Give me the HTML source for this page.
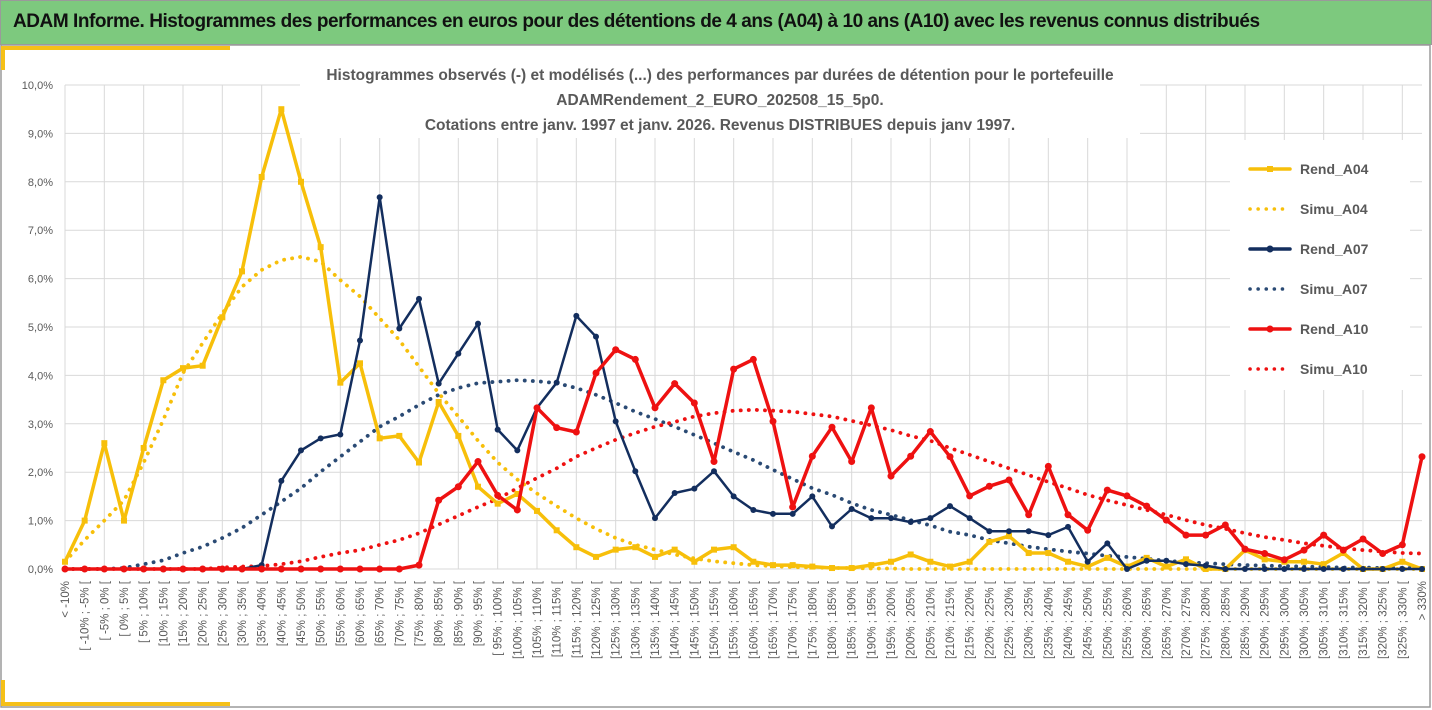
<!DOCTYPE html>
<html><head><meta charset="utf-8"><style>
body{margin:0;width:1432px;height:710px;overflow:hidden;background:#fff;font-family:"Liberation Sans",sans-serif}
#hdr{position:absolute;left:0;top:0;width:1432px;height:45px;background:#7dc97e;border:1px solid #9a9a9a;box-sizing:border-box}
#hdr span{position:absolute;left:12px;top:10px;font-size:19px;font-weight:bold;color:#111;letter-spacing:-0.45px;white-space:nowrap}
svg{position:absolute;left:0;top:0}
</style></head><body>
<div id="hdr"><span>ADAM Informe. Histogrammes des performances en euros pour des détentions de 4 ans (A04) à 10 ans (A10) avec les revenus connus distribués</span></div>
<svg id="chart" width="1432" height="710"></svg>
<script>
const rendA04=[0.15,1.0,2.6,1.0,2.5,3.9,4.15,4.2,5.2,6.15,8.1,9.5,8.0,6.65,3.85,4.25,2.7,2.75,2.2,3.45,2.75,1.7,1.35,1.55,1.2,0.8,0.45,0.25,0.4,0.45,0.25,0.4,0.15,0.4,0.45,0.15,0.08,0.08,0.05,0.02,0.02,0.08,0.15,0.3,0.15,0.05,0.15,0.56,0.68,0.33,0.33,0.15,0.05,0.23,0.05,0.23,0.05,0.2,0.0,0.0,0.39,0.2,0.15,0.15,0.1,0.33,0.0,0.0,0.15,0.0];
const simuA04=[0.15,0.6,1.0,1.42,2.2,3.08,4.05,4.67,5.28,5.83,6.18,6.38,6.45,6.35,5.97,5.63,5.18,4.73,4.18,3.63,3.15,2.65,2.2,1.85,1.56,1.3,1.05,0.83,0.64,0.5,0.4,0.3,0.22,0.16,0.12,0.08,0.06,0.04,0.03,0.02,0.02,0.01,0.01,0,0,0,0,0,0,0,0,0,0,0,0,0,0,0,0,0,0,0,0,0,0,0,0,0,0,0];
const rendA07=[0,0,0,0,0,0,0,0,0,0,0.08,1.82,2.45,2.7,2.78,4.72,7.68,4.97,5.58,3.83,4.45,5.07,2.88,2.45,3.33,3.85,5.23,4.8,3.05,2.02,1.05,1.57,1.66,2.02,1.5,1.22,1.14,1.14,1.5,0.88,1.24,1.05,1.05,0.97,1.05,1.3,1.05,0.78,0.78,0.78,0.7,0.87,0.15,0.53,0.0,0.17,0.17,0.1,0.07,0,0,0,0,0,0,0,0,0,0,0];
const simuA07=[0,0,0,0.02,0.1,0.18,0.33,0.46,0.64,0.85,1.12,1.39,1.67,2.01,2.32,2.63,2.94,3.15,3.39,3.6,3.74,3.84,3.87,3.9,3.88,3.84,3.74,3.6,3.43,3.25,3.1,2.94,2.77,2.6,2.42,2.25,2.05,1.86,1.67,1.53,1.36,1.22,1.12,1.01,0.9,0.77,0.7,0.6,0.53,0.46,0.41,0.36,0.32,0.27,0.25,0.21,0.17,0.14,0.12,0.1,0.08,0.07,0.06,0.05,0.04,0.03,0.03,0.02,0.02,0.02];
const rendA10=[0,0,0,0,0,0,0,0,0,0,0,0,0,0,0,0,0,0,0.08,1.42,1.7,2.22,1.52,1.22,3.33,2.92,2.83,4.05,4.53,4.33,3.33,3.83,3.43,2.22,4.13,4.33,3.05,1.28,2.33,2.93,2.22,3.33,1.92,2.33,2.84,2.32,1.51,1.71,1.84,1.12,2.12,1.12,0.8,1.63,1.51,1.3,1.01,0.7,0.7,0.91,0.41,0.32,0.19,0.39,0.7,0.39,0.62,0.32,0.5,2.32];
const simuA10=[0,0,0,0,0,0,0,0,0.03,0.05,0.06,0.1,0.16,0.25,0.33,0.39,0.5,0.6,0.74,0.92,1.1,1.28,1.45,1.67,1.88,2.08,2.32,2.5,2.67,2.81,2.94,3.04,3.15,3.22,3.27,3.29,3.27,3.25,3.2,3.15,3.06,2.97,2.87,2.75,2.65,2.5,2.36,2.22,2.08,1.94,1.8,1.67,1.53,1.42,1.32,1.22,1.12,1.01,0.91,0.83,0.74,0.66,0.6,0.53,0.48,0.43,0.39,0.36,0.33,0.32];
const yTicks=[0,1,2,3,4,5,6,7,8,9,10];
const yTickLabels=["0,0%","1,0%","2,0%","3,0%","4,0%","5,0%","6,0%","7,0%","8,0%","9,0%","10,0%"];
const categories=["< -10%"];
for(let lo=-10;lo<330;lo+=5){const s=(lo<10&&lo>=-10)||lo===95?"[ ":"[";categories.push(s+lo+"% ; "+(lo+5)+"% [");}
categories.push("> 330%");
const legendNames=["Rend_A04","Simu_A04","Rend_A07","Simu_A07","Rend_A10","Simu_A10"];

const NS="http://www.w3.org/2000/svg";
const svg=document.getElementById('chart');
const X0=65,X1=1422,Y0=569,Y10=85;
const xs=i=>X0+i*(X1-X0)/(categories.length-1);
const ys=v=>Y0+(Y10-Y0)*v/10;
function mk(t,a,p){const e=document.createElementNS(NS,t);for(const k in a)e.setAttribute(k,a[k]);(p||svg).appendChild(e);return e;}
let e=mk('rect',{x:1,y:45,width:1429,height:662,fill:'none',stroke:'#9a9a9a','stroke-width':1.5});


e=mk('path',{d:'M3 70 V48 H230',fill:'none',stroke:'#f5c018','stroke-width':4});


e=mk('path',{d:'M3 680 V704 H230',fill:'none',stroke:'#f5c018','stroke-width':4});


const g=mk('g',{});


yTicks.forEach((t,k)=>{
  const l=mk('line',{x1:X0,x2:X1,y1:ys(t),y2:ys(t),stroke:'#d9d9d9','stroke-width':1},g);
  
  
  const tx=mk('text',{x:53,y:ys(t)+4,'text-anchor':'end','font-size':11,fill:'#595959'});
  tx.textContent=yTickLabels[k];
  
  
});
categories.forEach((c,i)=>{
  if(i%2===0){const l=mk('line',{x1:xs(i),x2:xs(i),y1:Y10,y2:Y0,stroke:'#d9d9d9','stroke-width':1},g);
  
  }
  const tx=mk('text',{transform:`translate(${xs(i)+4},581) rotate(-90)`,'text-anchor':'end','font-size':11.5,fill:'#595959'});
  tx.textContent=c;
  
  
});
e=mk('rect',{x:300,y:58,width:840,height:80,fill:'#fff'});


["Histogrammes observés (-) et modélisés (...) des performances par durées de détention pour le portefeuille","ADAMRendement_2_EURO_202508_15_5p0.","Cotations  entre janv. 1997 et janv. 2026. Revenus DISTRIBUES depuis janv 1997."].forEach((s,k)=>{
  const t=mk('text',{x:720,y:80+k*25,'text-anchor':'middle','font-size':15.5,'font-weight':'bold',fill:'#595959'});
  t.textContent=s;
  
  
});
e=mk('rect',{x:1230,y:140,width:180,height:250,fill:'#fff'});


const series=[
 {d:rendA04,c:'#f7bf0a',dash:false,m:'sq'},
 {d:simuA04,c:'#f7bf0a',dash:true},
 {d:rendA07,c:'#132e5e',dash:false,m:'ci',w:2.5},
 {d:simuA07,c:'#2a4a74',dash:true},
 {d:rendA10,c:'#ee1111',dash:false,m:'ci',w:3.5},
 {d:simuA10,c:'#ee1111',dash:true}
];
const drawOrder=[1,3,5,0,2,4];
drawOrder.forEach(si=>{
  const s=series[si];
  const gs=mk('g',{});
  
  
  const pts=s.d.map((v,i)=>xs(i).toFixed(1)+','+ys(v).toFixed(1)).join(' ');
  const pl=mk('polyline',{points:pts,fill:'none',stroke:s.c,'stroke-width':s.dash?3.8:(s.w||3.5),'stroke-linejoin':'round','stroke-linecap':'round','stroke-dasharray':s.dash?'0.1 8':'none'},gs);
  
  
  if(s.m){s.d.forEach((v,i)=>{
    let p;
    if(s.m==='sq')p=mk('rect',{x:xs(i)-3,y:ys(v)-3,width:6,height:6,fill:s.c},gs);
    else p=mk('circle',{cx:xs(i),cy:ys(v),r:s.w>3?3.5:3,fill:s.c},gs);
    
    
  });}
});
legendNames.forEach((n,k)=>{
  const s=series[k],y=169+k*40;
  const lg=mk('g',{});
  
  
  mk('line',{x1:1250,x2:1290,y1:y,y2:y,stroke:s.c,'stroke-width':3.5,'stroke-linecap':'round','stroke-dasharray':s.dash?'0.1 8':'none'},lg);
  if(s.m==='sq')mk('rect',{x:1267,y:y-3,width:6,height:6,fill:s.c},lg);
  else if(s.m)mk('circle',{cx:1270,cy:y,r:3.5,fill:s.c},lg);
  const t=mk('text',{x:1300,y:y+5,'font-size':14,'font-weight':'bold',fill:'#595959'},lg);
  t.textContent=n;
});
</script>
</body></html>
